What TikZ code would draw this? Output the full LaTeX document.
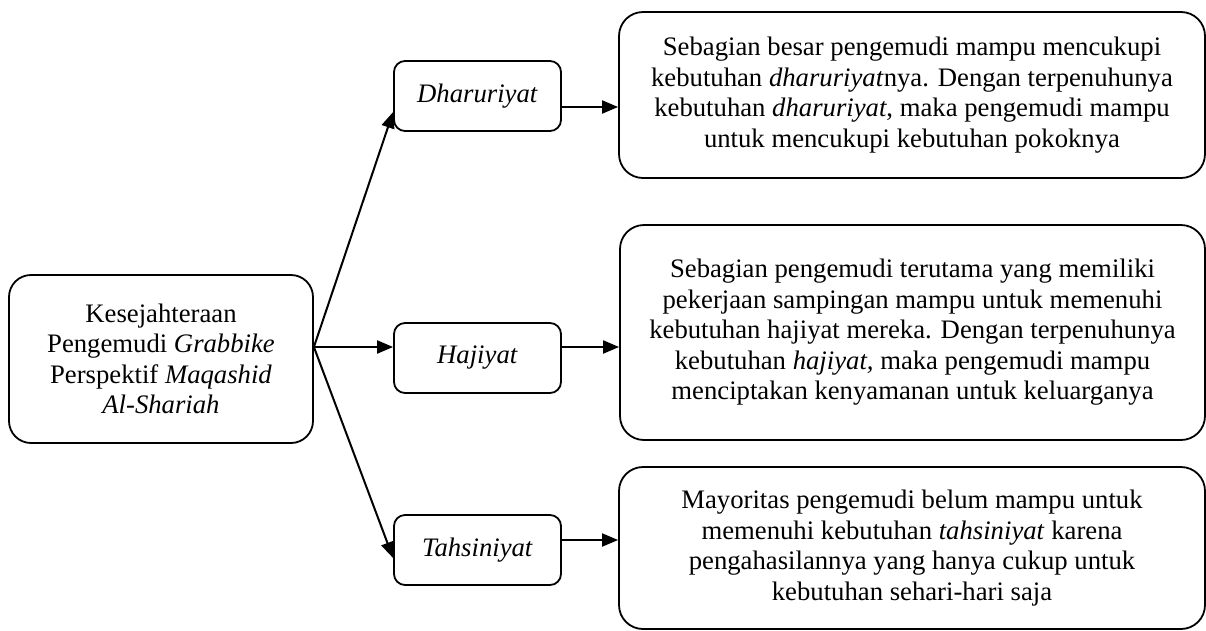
\documentclass[tikz,border=0pt]{standalone}
\usepackage{fontspec}
\setmainfont{Liberation Serif}
\usetikzlibrary{arrows.meta}
\tikzset{
  box/.style={draw, line width=1.8pt, rounded corners=#1, align=center, inner sep=0pt,
    font=\fontsize{26.7pt}{30.5pt}\selectfont},
  box/.default=20pt,
  arr/.style={line width=2pt, -{Triangle[length=16pt,width=13pt]}},
}
\begin{document}
\begin{tikzpicture}[x=1pt,y=-1pt]
\useasboundingbox (0,0) rectangle (1206,630);
\node[box=22pt, minimum width=304pt, minimum height=168pt] (main) at (161,359)
  {Kesejahteraan\\Pengemudi \textit{Grabbike}\\Perspektif \textit{Maqashid}\\\textit{Al-Shariah}};
\node[box=11pt, minimum width=167pt, minimum height=70pt] (dh) at (477.5,96) {\textit{Dharuriyat}};
\node[box=11pt, minimum width=167pt, minimum height=70pt] (hj) at (477.5,358) {\textit{Hajiyat}};
\node[box=11pt, minimum width=167pt, minimum height=70pt] (th) at (477.5,550) {\textit{Tahsiniyat}};
\node[box=24pt, minimum width=586pt, minimum height=166pt] (b1) at (912,95)
  {Sebagian besar pengemudi mampu mencukupi\\kebutuhan \textit{dharuriyat}nya. Dengan terpenuhunya\\kebutuhan \textit{dharuriyat}, maka pengemudi mampu\\untuk mencukupi kebutuhan pokoknya};
\node[box=24pt, minimum width=585pt, minimum height=215pt] (b2) at (912.5,332.5)
  {Sebagian pengemudi terutama yang memiliki\\pekerjaan sampingan mampu untuk memenuhi\\kebutuhan hajiyat mereka. Dengan terpenuhunya\\kebutuhan \textit{hajiyat,} maka pengemudi mampu\\menciptakan kenyamanan untuk keluarganya};
\node[box=24pt, minimum width=586pt, minimum height=162pt] (b3) at (912,548)
  {Mayoritas pengemudi belum mampu untuk\\memenuhi kebutuhan \textit{tahsiniyat} karena\\pengahasilannya yang hanya cukup untuk\\kebutuhan sehari-hari saja};
\coordinate (ya) at (0,107);
\coordinate (yb) at (0,347);
\coordinate (yc) at (0,540);
\coordinate (yd) at (0,112);
\coordinate (ye) at (0,558);
\coordinate (J) at (main.east |- yb);
\draw[arr] (J) -- (dh.west |- yd);
\draw[arr] (J) -- (hj.west |- yb);
\draw[arr] (J) -- (th.west |- ye);
\draw[arr] (dh.east |- ya) -- (b1.west |- ya);
\draw[arr] (hj.east |- yb) -- (b2.west |- yb);
\draw[arr] (th.east |- yc) -- (b3.west |- yc);
\end{tikzpicture}
\end{document}
